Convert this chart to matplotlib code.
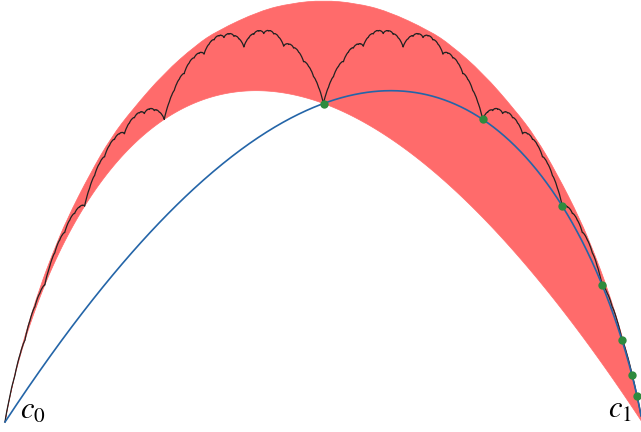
"""
Takagi-type de Rham curve between c0 and c1, with the flow curve through
the fixed-point orbit and the red band that contains the curve.
"""

import numpy as np
import matplotlib.pyplot as plt
from matplotlib.path import Path
from matplotlib.patches import PathPatch

# points, in units of the c0-c1 distance
c0 = np.array([0.0, 0.0])
c1 = np.array([1.0, 0.0])
p_mid = np.array([0.5, 0.5])       # f0(c1) = f1(c0), first green point
p_left = np.array([0.25, 0.475])   # f0(p_mid), deep cusp on the left
p_right = np.array([0.75, 0.475])  # f1(p_mid), second green point

# upper edge of the red band
upper_x = [0.0, 0.011, 0.0314, 0.055, 0.075, 0.097, 0.1336, 0.1667, 0.2,
           0.25, 0.3, 0.3333, 0.4, 0.45, 0.5, 0.55, 0.6, 0.6667, 0.7, 0.75,
           0.8, 0.8333, 0.8664, 0.903, 0.925, 0.945, 0.9686, 0.989, 1.0]
upper_y = [0.0, 0.06, 0.137, 0.212, 0.265, 0.318, 0.39, 0.447, 0.4905,
           0.5478, 0.5918, 0.6141, 0.6453, 0.6575, 0.662, 0.6575, 0.6453,
           0.6141, 0.5918, 0.5478, 0.4905, 0.447, 0.39, 0.318, 0.265,
           0.212, 0.137, 0.06, 0.0]

n_green = 7
labels = [r"$c_0$", r"$c_1$"]


def affine_from_points(src, dst):
    S = np.column_stack([np.array(src), np.ones(3)])
    M = np.linalg.solve(S, np.array(dst))
    return M[:2].T, M[2]


def apply(f, pts):
    A, b = f
    return pts @ A.T + b


def flow(f, fixed, start, t):
    # f^t(start) for real t, using the eigen decomposition of the linear part
    A, _ = f
    vals, vecs = np.linalg.eig(A)
    inv = np.linalg.inv(vecs)
    d = start - fixed
    out = []
    for ti in t:
        At = np.real(vecs @ np.diag(vals ** ti) @ inv)
        out.append(fixed + At @ d)
    return np.array(out)


f0 = affine_from_points([c0, c1, p_mid], [c0, p_mid, p_left])
f1 = affine_from_points([c0, c1, p_mid], [p_mid, c1, p_right])

# attractor of the two maps
curve = np.array([c0, c1])
for _ in range(14):
    curve = np.vstack([apply(f0, curve), apply(f1, curve)[1:]])

t = np.linspace(0, 16, 3000)
blue = flow(f1, c1, c0, t)          # c0 -> p_mid -> ... -> c1
lower = flow(f0, c0, c1, t)         # c1 -> p_mid -> p_left -> ... -> c0

green = [p_mid]
for _ in range(n_green - 1):
    green.append(apply(f1, green[-1][None, :])[0])
green = np.array(green)

# red band: smooth upper edge, lower edge along the f0 flow
up = np.column_stack([upper_x, upper_y])
verts = [up[0]]
codes = [Path.MOVETO]
for i in range(1, len(up) - 1):
    end = up[i + 1] if i == len(up) - 2 else (up[i] + up[i + 1]) / 2
    verts += [up[i], end]
    codes += [Path.CURVE3, Path.CURVE3]
for p in lower:
    verts.append(p)
    codes.append(Path.LINETO)
verts.append(up[0])
codes.append(Path.CLOSEPOLY)

fig = plt.figure(figsize=(6.41, 4.32), dpi=100)
ax = fig.add_axes([0, 0, 1, 1])
ax.add_patch(PathPatch(Path(verts, codes), facecolor="#ff6b6b",
                       edgecolor="#ff6b6b", linewidth=0.5, zorder=1))
ax.plot(curve[:, 0], curve[:, 1], color="#222222", linewidth=0.9, zorder=2)
ax.plot(blue[:, 0], blue[:, 1], color="#2465a8", linewidth=1.2, zorder=3)
ax.plot(green[:, 0], green[:, 1], "o", color="#2e8b3e", markersize=6,
        markeredgewidth=0, zorder=4)

plt.rcParams["mathtext.fontset"] = "stix"
ax.annotate(labels[0], xy=c0, xytext=(11, 2), textcoords="offset points",
            fontsize=22, ha="left", va="baseline", annotation_clip=False)
ax.annotate(labels[1], xy=c1, xytext=(-7, 3), textcoords="offset points",
            fontsize=22, ha="right", va="baseline", annotation_clip=False)

ax.set_xlim(-5 / 637, 636 / 637)
ax.set_ylim(-10 / 637, 422 / 637)
ax.axis("off")

plt.savefig("out.png", dpi=100)
